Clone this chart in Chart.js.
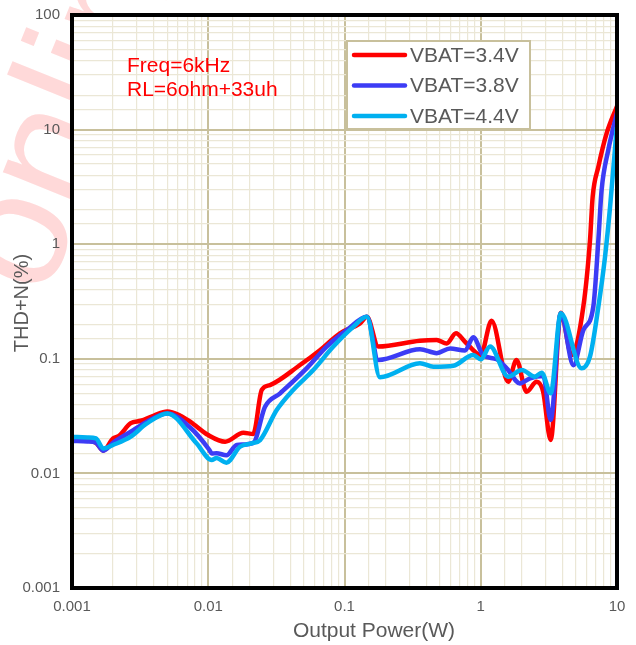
<!DOCTYPE html>
<html><head><meta charset="utf-8">
<script src="https://cdn.jsdelivr.net/npm/chart.js@4.4.0/dist/chart.umd.min.js"></script>
<style>html,body{margin:0;padding:0;background:#fff;}#wrap{width:636px;height:645px;position:relative;}</style>
</head><body><div id="wrap"><canvas id="c" width="636" height="645"></canvas></div>
<script>
const seriesLabels = ['VBAT=3.4V', 'VBAT=3.8V', 'VBAT=4.4V'];
const seriesColors = ['#FF0000', '#3C3CF5', '#00B0F0'];
const xTickLabels = ['0.001', '0.01', '0.1', '1', '10'];
const yTickLabels = ['0.001', '0.01', '0.1', '1', '10', '100'];
const annotationLines = ['Freq=6kHz', 'RL=6ohm+33uh'];
const xTitle = 'Output Power(W)';
const yTitle = 'THD+N(%)';
const watermarkText = 'online';

const redX = [0.001, 0.0013, 0.0015, 0.0017, 0.002, 0.0022, 0.0027, 0.0032, 0.004, 0.005, 0.0062, 0.0074, 0.01, 0.0133, 0.0181, 0.0214, 0.0247, 0.0284, 0.0471, 0.066, 0.0927, 0.13, 0.146, 0.177, 0.358, 0.475, 0.562, 0.658, 0.766, 1.0, 1.2, 1.59, 1.83, 2.17, 2.57, 2.87, 3.26, 3.87, 4.65, 5.66, 6.34, 6.63, 7.3, 8.4, 10];
const redY = [0.0195, 0.0193, 0.0185, 0.0158, 0.0202, 0.0212, 0.0274, 0.0288, 0.032, 0.0346, 0.032, 0.0282, 0.0216, 0.0189, 0.0226, 0.0221, 0.0535, 0.059, 0.0883, 0.119, 0.167, 0.204, 0.233, 0.128, 0.144, 0.146, 0.136, 0.167, 0.141, 0.108, 0.215, 0.063, 0.0977, 0.0516, 0.063, 0.0516, 0.0196, 0.252, 0.108, 0.285, 1.09, 2.6, 4.74, 9.3, 16];

const blueX = [0.001, 0.0013, 0.0015, 0.0017, 0.002, 0.0027, 0.0035, 0.005, 0.0074, 0.0102, 0.0106, 0.0115, 0.0136, 0.0162, 0.0214, 0.0261, 0.0337, 0.0527, 0.074, 0.104, 0.146, 0.177, 0.358, 0.475, 0.595, 0.766, 0.881, 1.04, 1.31, 1.55, 1.94, 2.3, 2.88, 3.26, 3.87, 4.78, 5.66, 6.7, 7.3, 7.71, 8.63, 10];
const blueY = [0.0192, 0.019, 0.0185, 0.0158, 0.0185, 0.0231, 0.028, 0.0334, 0.025, 0.016, 0.0149, 0.015, 0.0144, 0.0177, 0.0185, 0.0382, 0.05, 0.0826, 0.128, 0.178, 0.233, 0.0977, 0.121, 0.112, 0.123, 0.118, 0.154, 0.108, 0.099, 0.0826, 0.061, 0.0676, 0.0708, 0.0292, 0.25, 0.088, 0.178, 0.285, 1.09, 2.97, 6.64, 14];

const cyanX = [0.001, 0.0013, 0.0015, 0.0017, 0.002, 0.0027, 0.0035, 0.005, 0.0082, 0.0106, 0.0115, 0.0136, 0.0171, 0.0208, 0.024, 0.0318, 0.042, 0.059, 0.0828, 0.116, 0.146, 0.182, 0.358, 0.449, 0.63, 0.881, 1.0, 1.17, 1.59, 2.0, 2.5, 2.8, 3.26, 3.87, 5.5, 6.34, 7.3, 8.17, 8.9, 9.96];
const cyanY = [0.0208, 0.0206, 0.0202, 0.0165, 0.0177, 0.0209, 0.027, 0.0334, 0.0183, 0.0131, 0.0136, 0.0124, 0.0171, 0.0183, 0.0195, 0.0357, 0.0535, 0.0798, 0.128, 0.19, 0.233, 0.069, 0.0914, 0.0854, 0.0871, 0.108, 0.099, 0.128, 0.0698, 0.0798, 0.0698, 0.0757, 0.05, 0.25, 0.0826, 0.105, 0.285, 0.778, 2.13, 10.5];

const seriesX = [redX, blueX, cyanX];
const seriesY = [redY, blueY, cyanY];

const FONT = '"Liberation Sans", Arial, sans-serif';
const GRAY = '#595959';
const MAJOR = '#C8C09C';
const MINOR = '#EBE7D6';

function isPow10(v) {
  const l = Math.log10(v);
  return Math.abs(l - Math.round(l)) < 1e-6;
}

const datasets = seriesLabels.map((lab, i) => ({
  label: lab,
  data: seriesX[i].map((x, j) => ({ x: x, y: seriesY[i][j] })),
  borderColor: seriesColors[i],
  backgroundColor: seriesColors[i],
  borderWidth: 4.5,
  pointRadius: 0,
  cubicInterpolationMode: 'monotone',
  fill: false,
  order: 3 - i
}));

const decor = {
  id: 'decor',
  beforeDraw(chart) {
    const ctx = chart.ctx;
    ctx.save();
    ctx.fillStyle = '#FFFFFF';
    ctx.fillRect(0, 0, chart.width, chart.height);
    // watermark
    ctx.translate(45, 300);
    ctx.rotate(-68 * Math.PI / 180);
    ctx.font = '165px ' + FONT;
    ctx.fillStyle = '#FFD9D9';
    ctx.textBaseline = 'alphabetic';
    ctx.fillText(watermarkText, 0, 0);
    ctx.restore();
    const a = chart.chartArea;
    ctx.save();
    ctx.fillStyle = '#FFFFFF';
    ctx.fillRect(a.left, a.top, a.right - a.left, a.bottom - a.top);
    ctx.restore();
  },
  afterDraw(chart) {
    const ctx = chart.ctx;
    const a = chart.chartArea;
    ctx.save();
    // border
    ctx.strokeStyle = '#000000';
    ctx.lineWidth = 4;
    ctx.strokeRect(a.left, a.top, a.right - a.left, a.bottom - a.top);
    // annotation
    ctx.fillStyle = '#FF0000';
    ctx.font = '21px ' + FONT;
    ctx.textBaseline = 'middle';
    ctx.textAlign = 'left';
    annotationLines.forEach((t, i) => ctx.fillText(t, 127, 66 + i * 24));
    // legend
    const lx = 347, ly = 41, lw = 183, lh = 88;
    ctx.fillStyle = '#FFFFFF';
    ctx.fillRect(lx, ly, lw, lh);
    ctx.strokeStyle = MAJOR;
    ctx.lineWidth = 2;
    ctx.strokeRect(lx, ly, lw, lh);
    ctx.font = '21px ' + FONT;
    seriesLabels.forEach((lab, i) => {
      const y = 55 + i * 30.5;
      ctx.strokeStyle = seriesColors[i];
      ctx.lineWidth = 4.5;
      ctx.lineCap = 'round';
      ctx.beginPath();
      ctx.moveTo(354, y);
      ctx.lineTo(405, y);
      ctx.stroke();
      ctx.fillStyle = GRAY;
      ctx.fillText(lab, 410, y + 1);
    });
    // titles
    ctx.fillStyle = GRAY;
    ctx.textAlign = 'center';
    ctx.font = '21px ' + FONT;
    ctx.fillText(xTitle, 374, 631);
    ctx.translate(22, 303);
    ctx.rotate(-Math.PI / 2);
    ctx.font = '20px ' + FONT;
    ctx.fillText(yTitle, 0, 0);
    ctx.restore();
  }
};

new Chart(document.getElementById('c'), {
  type: 'line',
  data: { datasets: datasets },
  options: {
    responsive: false,
    animation: false,
    devicePixelRatio: 1,
    layout: { padding: { left: 0, top: 15, right: 19, bottom: 0 } },
    plugins: { legend: { display: false }, tooltip: { enabled: false } },
    scales: {
      x: {
        type: 'logarithmic', min: 0.001, max: 10,
        afterFit(s) { s.height = 57; s.paddingLeft = 0; s.paddingRight = 0; },
        border: { display: false },
        grid: {
          drawTicks: false,
          color: c => (c.tick && isPow10(c.tick.value)) ? MAJOR : MINOR,
          lineWidth: c => (c.tick && isPow10(c.tick.value)) ? 2 : 1.2
        },
        ticks: {
          autoSkip: false, maxRotation: 0, padding: 10,
          color: GRAY, font: { family: FONT, size: 15 },
          callback: (v) => {
            if (!isPow10(v)) return '';
            const i = Math.round(Math.log10(v)) + 3;
            return xTickLabels[i];
          }
        }
      },
      y: {
        type: 'logarithmic', min: 0.001, max: 100,
        afterFit(s) { s.width = 72; s.paddingTop = 0; s.paddingBottom = 0; },
        border: { display: false },
        grid: {
          drawTicks: false,
          color: c => (c.tick && isPow10(c.tick.value)) ? MAJOR : MINOR,
          lineWidth: c => (c.tick && isPow10(c.tick.value)) ? 2 : 1.2
        },
        ticks: {
          autoSkip: false, padding: 12,
          color: GRAY, font: { family: FONT, size: 15 },
          callback: (v) => {
            if (!isPow10(v)) return '';
            const i = Math.round(Math.log10(v)) + 3;
            return yTickLabels[i];
          }
        }
      }
    }
  },
  plugins: [decor]
});
</script></body></html>
